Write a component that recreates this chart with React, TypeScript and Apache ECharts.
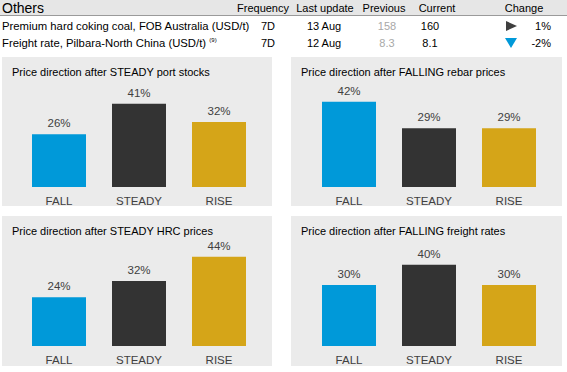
import React, { useEffect, useRef } from "react";
import * as echarts from "echarts";

const categories = ["FALL", "STEADY", "RISE"];
const panelTitles = [
  "Price direction after STEADY port stocks",
  "Price direction after FALLING rebar prices",
  "Price direction after STEADY HRC prices",
  "Price direction after FALLING freight rates",
];
const steadyPortStocks = [26, 41, 32];
const fallingRebarPrices = [42, 29, 29];
const steadyHrcPrices = [24, 32, 44];
const fallingFreightRates = [30, 40, 30];
const panelValues = [steadyPortStocks, fallingRebarPrices, steadyHrcPrices, fallingFreightRates];
const barColors = ["#0099d9", "#333333", "#d5a518"];

const tableHeaders = ["Others", "Frequency", "Last update", "Previous", "Current", "Change"];
const rowNames = ["Premium hard coking coal, FOB Australia (USD/t)", "Freight rate, Pilbara-North China (USD/t)"];
const rowNotes = ["", "(9)"];
const rowFrequency = ["7D", "7D"];
const rowLastUpdate = ["13 Aug", "12 Aug"];
const rowPrevious = ["158", "8.3"];
const rowCurrent = ["160", "8.1"];
const rowChange = ["1%", "-2%"];
const rowDirection = ["flat", "down"];

const FONT = "'Liberation Sans', Arial, sans-serif";
const FS = 11;

export default function App() {
  const ref = useRef<HTMLDivElement>(null);
  useEffect(() => {
    document.body.style.margin = "0";
    const chart = echarts.init(ref.current!, undefined, { renderer: "svg" });

    const panels = [
      { x: 2, y: 57, w: 270, h: 149 },
      { x: 291, y: 57, w: 271, h: 149 },
      { x: 2, y: 216, w: 270, h: 150 },
      { x: 291, y: 216, w: 271, h: 150 },
    ];

    const graphic: any[] = [];
    graphic.push({ type: "rect", shape: { x: 0, y: 0, width: 567, height: 15 }, style: { fill: "#e6e6e6" }, z: 0 });
    graphic.push({ type: "line", shape: { x1: 0, y1: 15.5, x2: 567, y2: 15.5 }, style: { stroke: "#9a9a9a", lineWidth: 1 }, z: 1 });
    const colX = [2, 263, 325, 384, 437, 524];
    tableHeaders.forEach((h, i) => {
      graphic.push({
        type: "text",
        x: colX[i],
        y: 7.5,
        style: {
          text: h,
          fill: "#000",
          font: `${i === 0 ? 14 : FS}px ${FONT}`,
          textAlign: i === 0 ? "left" : "center",
          textVerticalAlign: "middle",
        },
        z: 2,
      });
    });
    const rowY = [26, 43];
    rowNames.forEach((name, r) => {
      const y = rowY[r];
      const t = (text: string, x: number, align: string, fill = "#000") => ({
        type: "text",
        x,
        y,
        style: { text, fill, font: `${FS}px ${FONT}`, textAlign: align, textVerticalAlign: "middle" },
        z: 2,
      });
      graphic.push({
        type: "text",
        x: 2,
        y,
        style: {
          text: rowNotes[r] ? `{n|${name}} {s|${rowNotes[r]}}` : `{n|${name}}`,
          rich: {
            n: { fontSize: 11.3, fontFamily: FONT, fill: "#000", color: "#000" },
            s: { fontSize: 6, fontFamily: FONT, fill: "#000", color: "#000", verticalAlign: "top", padding: [0, 0, 6, 0] },
          },
          textAlign: "left",
          textVerticalAlign: "middle",
        },
        z: 2,
      });
      graphic.push(t(rowFrequency[r], 268, "center"));
      graphic.push(t(rowLastUpdate[r], 324, "center"));
      graphic.push(t(rowPrevious[r], 387, "center", "#a8a8a8"));
      graphic.push(t(rowCurrent[r], 430, "center"));
      graphic.push(t(rowChange[r], 551, "right"));
      if (rowDirection[r] === "flat") {
        graphic.push({ type: "polygon", shape: { points: [[506, y - 5], [517, y], [506, y + 5]] }, style: { fill: "#3f3f3f" }, z: 2 });
      } else {
        graphic.push({ type: "polygon", shape: { points: [[505, y - 5], [517, y - 5], [511, y + 5]] }, style: { fill: "#0099d9" }, z: 2 });
      }
    });
    panels.forEach((p) => {
      graphic.push({ type: "rect", shape: { x: p.x, y: p.y, width: p.w, height: p.h }, style: { fill: "#ebebeb" }, z: -10 });
    });

    const grids = panels.map((p, i) => ({
      left: p.x + (i % 2 === 0 ? 17 : 18),
      top: p.y + 28.5,
      width: 240,
      height: 101.5,
    }));

    chart.setOption({
      animation: false,
      textStyle: { fontFamily: FONT },
      title: panels.map((p, i) => ({
        text: panelTitles[i],
        left: p.x + 10,
        top: p.y + 9,
        padding: 0,
        textStyle: { fontSize: FS, fontWeight: "normal", color: "#000", fontFamily: FONT },
      })),
      graphic,
      grid: grids,
      xAxis: grids.map((_, i) => ({
        type: "category",
        gridIndex: i,
        data: categories,
        axisLine: { show: false },
        axisTick: { show: false },
        axisLabel: { color: "#404040", fontSize: 11.5, margin: 8, fontFamily: FONT },
      })),
      yAxis: grids.map((_, i) => ({ type: "value", gridIndex: i, min: 0, max: 50, show: false, splitLine: { show: false } })),
      series: panelValues.map((vals, i) => ({
        type: "bar",
        xAxisIndex: i,
        yAxisIndex: i,
        barWidth: 54,
        data: vals.map((v, j) => ({ value: v, itemStyle: { color: barColors[j] } })),
        label: { show: true, position: "top", distance: 5, formatter: "{c}%", color: "#404040", fontSize: 11.5, fontFamily: FONT },
      })),
    });
    return () => chart.dispose();
  }, []);
  return <div ref={ref} style={{ width: 567, height: 372 }} />;
}
